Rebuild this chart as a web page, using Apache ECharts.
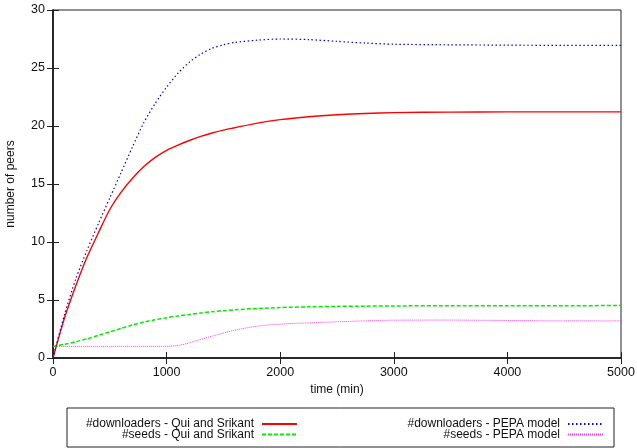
<!DOCTYPE html>
<html>
<head>
<meta charset="utf-8">
<script src="https://cdn.jsdelivr.net/npm/echarts@6/dist/echarts.min.js"></script>
<style>
html,body{margin:0;padding:0;background:#fff;}
#chart{width:637px;height:448px;}
</style>
</head>
<body>
<div id="chart"></div>
<script>
// time (min)
var times = [0,100,200,300,400,500,600,700,800,900,1000,1100,1200,1300,1400,1500,1600,1800,2000,2250,2500,2750,3000,3500,4000,4500,5000];
var downloadersQS = [0,3.4,6.2,8.7,10.8,12.8,14.3,15.5,16.5,17.3,17.9,18.35,18.75,19.1,19.4,19.65,19.85,20.25,20.55,20.8,20.97,21.08,21.15,21.2,21.22,21.22,21.22];
var seedsQS = [1.0,1.18,1.4,1.65,1.95,2.25,2.55,2.85,3.1,3.3,3.47,3.62,3.76,3.88,3.99,4.08,4.15,4.27,4.35,4.41,4.45,4.47,4.49,4.5,4.51,4.51,4.52];
var downloadersPEPA = [0,3.7,6.8,9.3,11.6,13.8,16.0,18.2,20.3,21.95,23.35,24.55,25.5,26.2,26.7,27.0,27.2,27.4,27.5,27.45,27.3,27.15,27.05,27.0,26.97,26.95,26.95];
var seedsPEPA = [1,1,1,1,1,1,1,1,1,1,1.0,1.08,1.3,1.6,1.88,2.15,2.4,2.75,2.92,3.03,3.12,3.2,3.26,3.27,3.23,3.2,3.2];
var seriesNames = ['#downloaders - Qui and Srikant','#seeds - Qui and Srikant','#downloaders - PEPA model','#seeds - PEPA model'];
var xTicks = {min:0,max:5000,interval:1000};
var yTicks = {min:0,max:30,interval:5};

function pairs(v){ return times.map(function(t,i){ return [t, v[i]]; }); }

var font = 'Liberation Sans, Arial, Helvetica, sans-serif';
var axisCol = '#222';
var chart = echarts.init(document.getElementById('chart'), null, {renderer:'canvas'});

function mkLegend(name, right, top){
  return {
    data:[name], right:right, top:top, padding:0, orient:'vertical', align:'right',
    itemWidth:35, itemHeight:10, itemGap:0,
    itemStyle:{opacity:0},
    textStyle:{fontFamily:font, fontSize:12, color:'#111', padding:[0,3,0,0]},
    selectedMode:false
  };
}
function plain(v){ return String(v); }

var option = {
  animation:false,
  backgroundColor:'#fff',
  grid:{left:53, right:16, top:10, bottom:90, show:true, borderColor:axisCol, borderWidth:1,
        containLabel:false, outerBoundsMode:'none'},
  legend:[
    mkLegend(seriesNames[0], 339, 418),
    mkLegend(seriesNames[1], 339, 428.5),
    mkLegend(seriesNames[2], 33, 418),
    mkLegend(seriesNames[3], 33, 428.5)
  ],
  xAxis:[{
    type:'value', min:xTicks.min, max:xTicks.max, interval:xTicks.interval,
    name:'time (min)', nameLocation:'middle', nameGap:25,
    nameTextStyle:{fontFamily:font, fontSize:12, color:'#111'},
    axisLine:{show:true, lineStyle:{color:axisCol, width:1.5}},
    axisTick:{show:true, inside:true, length:6, lineStyle:{color:axisCol}},
    axisLabel:{fontFamily:font, fontSize:12.5, color:'#111', margin:8, formatter:plain},
    splitLine:{show:false}
  },{
    type:'value', position:'top', min:xTicks.min, max:xTicks.max, interval:xTicks.interval,
    axisLine:{show:true, lineStyle:{color:axisCol, width:1.5}},
    axisTick:{show:true, inside:true, length:6, lineStyle:{color:axisCol}},
    axisLabel:{show:false}, splitLine:{show:false}
  }],
  yAxis:[{
    type:'value', min:yTicks.min, max:yTicks.max, interval:yTicks.interval,
    name:'number of peers', nameLocation:'middle', nameGap:36, nameRotate:90,
    nameTextStyle:{fontFamily:font, fontSize:12, color:'#111'},
    axisLine:{show:true, lineStyle:{color:axisCol, width:1.5}},
    axisTick:{show:true, inside:true, length:6, lineStyle:{color:axisCol}},
    axisLabel:{fontFamily:font, fontSize:12.5, color:'#111', margin:8, formatter:plain},
    splitLine:{show:false}
  },{
    type:'value', position:'right', min:yTicks.min, max:yTicks.max, interval:yTicks.interval,
    axisLine:{show:true, lineStyle:{color:axisCol, width:1.5}},
    axisTick:{show:true, inside:true, length:6, lineStyle:{color:axisCol}},
    axisLabel:{show:false}, splitLine:{show:false}
  }],
  series:[
    {name:seriesNames[0], type:'line', data:pairs(downloadersQS), symbol:'none', smooth:0.25,
     lineStyle:{color:'#ff0000', width:1.4}, itemStyle:{color:'#ff0000'}},
    {name:seriesNames[1], type:'line', data:pairs(seedsQS), symbol:'none', smooth:0.25,
     lineStyle:{color:'#00ee00', width:1.5, type:[4,2]}, itemStyle:{color:'#00ee00'}},
    {name:seriesNames[2], type:'line', data:pairs(downloadersPEPA), symbol:'none', smooth:0.25,
     lineStyle:{color:'#0000ff', width:1.2, type:[1.5,2.5]}, itemStyle:{color:'#0000ff'}},
    {name:seriesNames[3], type:'line', data:pairs(seedsPEPA), symbol:'none', smooth:0.25,
     lineStyle:{color:'#ff33ff', width:1, type:[1,1]}, itemStyle:{color:'#ff33ff'}}
  ],
  graphic:[{
    type:'rect', shape:{x:67, y:408, width:547, height:39},
    style:{fill:null, stroke:'#222', lineWidth:1}, silent:true, z:-1
  }]
};
chart.setOption(option);
</script>
</body>
</html>
